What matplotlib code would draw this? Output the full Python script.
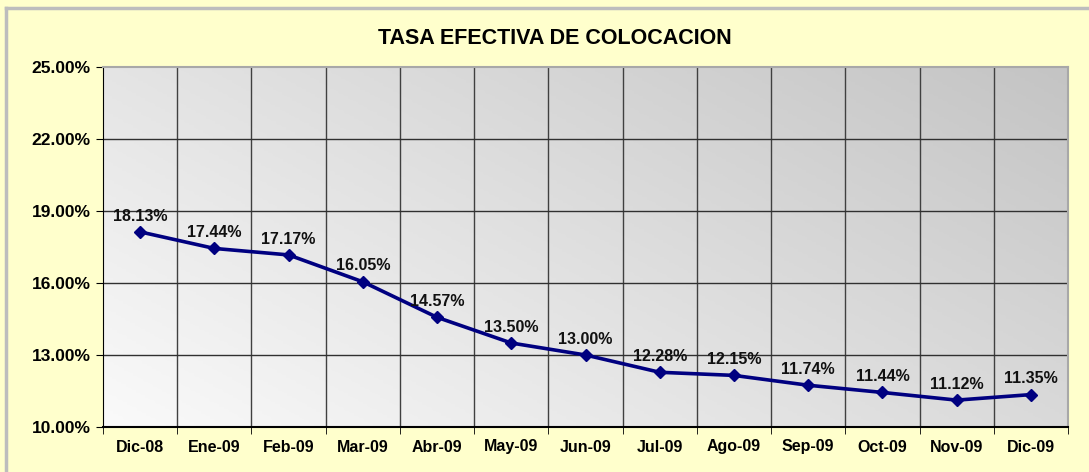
import numpy as np
import matplotlib
matplotlib.use('Agg')
import matplotlib.pyplot as plt
from matplotlib.lines import Line2D

# data
months = ['Dic-08', 'Ene-09', 'Feb-09', 'Mar-09', 'Abr-09', 'May-09', 'Jun-09',
          'Jul-09', 'Ago-09', 'Sep-09', 'Oct-09', 'Nov-09', 'Dic-09']
tasa = [18.13, 17.44, 17.17, 16.05, 14.57, 13.50, 13.00,
        12.28, 12.15, 11.74, 11.44, 11.12, 11.35]
y_ticks = [10, 13, 16, 19, 22, 25]

W, H = 1089, 472
fig = plt.figure(figsize=(W / 100, H / 100), dpi=100, facecolor='#FFFFCC')

# gray frame, only top and left edges are visible
fig.lines.append(Line2D([6 / W, 6 / W], [0, 1 - 8 / H], transform=fig.transFigure,
                        color='#BDBDBD', linewidth=2.5))
fig.lines.append(Line2D([6 / W, 1], [1 - 8 / H, 1 - 8 / H], transform=fig.transFigure,
                        color='#BDBDBD', linewidth=2.5))

ax = fig.add_axes([103 / W, 45 / H, 965 / W, 360 / H])
n = len(months)
ax.set_xlim(-0.5, n - 0.5)
ax.set_ylim(10, 25)

# plot area gradient: light at bottom-left, gray at top-right
gx, gy = np.meshgrid(np.linspace(0, 1, 200), np.linspace(0, 1, 200))
grad = gx * 0.6 + gy * 0.4
cmap = matplotlib.colors.LinearSegmentedColormap.from_list('g', ['#FAFAFA', '#C4C4C4'])
ax.imshow(grad, extent=(-0.5, n - 0.5, 10, 25), origin='lower', aspect='auto',
          cmap=cmap, zorder=0)

# grid lines
for b in np.arange(0.5, n - 1, 1):
    ax.axvline(b, color='#404040', linewidth=1, zorder=1)
for t in y_ticks[1:-1]:
    ax.axhline(t, color='#303030', linewidth=1, zorder=1)

x = np.arange(n)
ax.plot(x, tasa, color='#000080', linewidth=2.6, marker='D', markersize=6.5, zorder=3)
for xi, v in zip(x, tasa):
    ax.annotate(f'{v:.2f}%', (xi, v), xytext=(0, 6), textcoords='offset points',
                ha='center', va='bottom', fontsize=11.5, fontweight='bold',
                family='Liberation Sans', color='#111111', zorder=4)

ax.set_yticks(y_ticks)
ax.set_yticklabels([f'{t:.2f}%' for t in y_ticks], fontsize=12.5, fontweight='bold',
                   family='Liberation Sans')
ax.set_xticks(x)
ax.set_xticklabels(months, fontsize=11.5, fontweight='bold', family='Liberation Sans')
ax.set_xticks(np.arange(-0.5, n, 1), minor=True)
ax.tick_params(axis='x', which='major', length=0, pad=9)
ax.tick_params(axis='x', which='minor', length=5, direction='out', color='black')
ax.tick_params(axis='y', length=5, direction='out', color='black', pad=4)

for side in ['top', 'right']:
    ax.spines[side].set_color('#A8A8A8')
    ax.spines[side].set_linewidth(1.5)
ax.spines['left'].set_color('black')
ax.spines['bottom'].set_color('black')
ax.spines['bottom'].set_linewidth(1.5)

fig.text(555 / W, 1 - 38 / H, 'TASA EFECTIVA DE COLOCACION', ha='center', va='center',
         fontsize=15.5, fontweight='bold', family='Liberation Sans')

fig.savefig('out.png', dpi=100, facecolor=fig.get_facecolor())
